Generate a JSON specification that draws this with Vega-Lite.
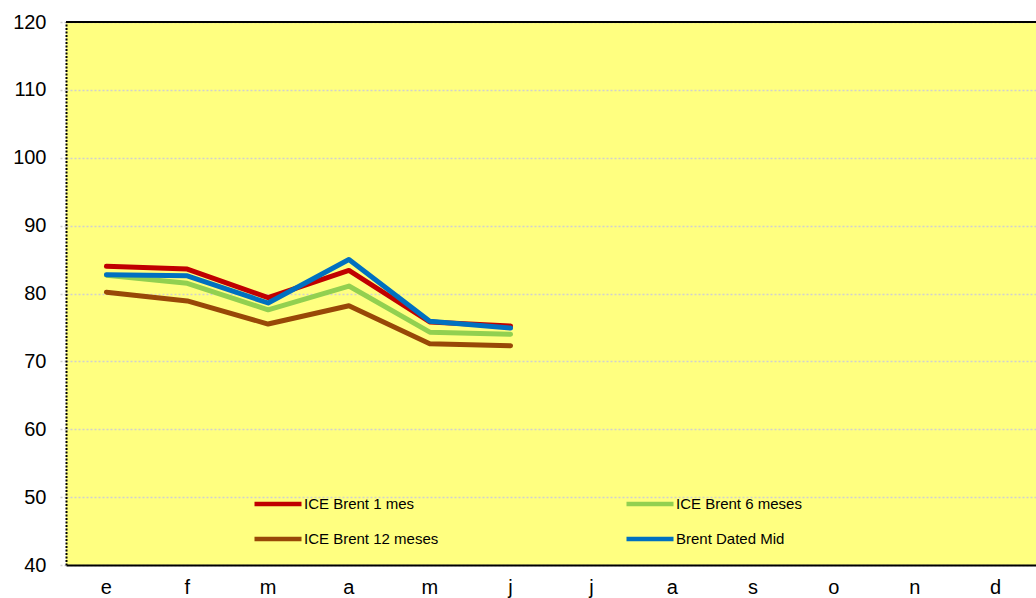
{
  "$schema": "https://vega.github.io/schema/vega-lite/v6.json",
  "width": 970,
  "height": 543,
  "autosize": {"type": "none"},
  "padding": {"left": 66, "top": 22, "right": 0, "bottom": 33},
  "background": "white",
  "config": {
    "view": {"fill": "#FFFF80", "stroke": null},
    "font": "Liberation Sans"
  },
  "data": {
    "values": [
      {"serie": "ICE Brent 12 meses", "mes": 1, "valor": 80.2},
      {"serie": "ICE Brent 12 meses", "mes": 2, "valor": 78.9},
      {"serie": "ICE Brent 12 meses", "mes": 3, "valor": 75.5},
      {"serie": "ICE Brent 12 meses", "mes": 4, "valor": 78.2},
      {"serie": "ICE Brent 12 meses", "mes": 5, "valor": 72.6},
      {"serie": "ICE Brent 12 meses", "mes": 6, "valor": 72.3},
      {"serie": "ICE Brent 6 meses", "mes": 1, "valor": 82.7},
      {"serie": "ICE Brent 6 meses", "mes": 2, "valor": 81.5},
      {"serie": "ICE Brent 6 meses", "mes": 3, "valor": 77.6},
      {"serie": "ICE Brent 6 meses", "mes": 4, "valor": 81.1},
      {"serie": "ICE Brent 6 meses", "mes": 5, "valor": 74.3},
      {"serie": "ICE Brent 6 meses", "mes": 6, "valor": 74.0},
      {"serie": "ICE Brent 1 mes", "mes": 1, "valor": 84.0},
      {"serie": "ICE Brent 1 mes", "mes": 2, "valor": 83.6},
      {"serie": "ICE Brent 1 mes", "mes": 3, "valor": 79.4},
      {"serie": "ICE Brent 1 mes", "mes": 4, "valor": 83.4},
      {"serie": "ICE Brent 1 mes", "mes": 5, "valor": 75.8},
      {"serie": "ICE Brent 1 mes", "mes": 6, "valor": 75.2},
      {"serie": "Brent Dated Mid", "mes": 1, "valor": 82.75},
      {"serie": "Brent Dated Mid", "mes": 2, "valor": 82.6},
      {"serie": "Brent Dated Mid", "mes": 3, "valor": 78.6},
      {"serie": "Brent Dated Mid", "mes": 4, "valor": 85.0},
      {"serie": "Brent Dated Mid", "mes": 5, "valor": 75.9},
      {"serie": "Brent Dated Mid", "mes": 6, "valor": 74.9}
    ]
  },
  "layer": [
    {
      "mark": {"type": "rule", "color": "black", "strokeWidth": 2},
      "encoding": {"y": {"datum": 120, "type": "quantitative", "scale": {"domain": [40, 120]}}}
    },
    {
      "mark": {"type": "line", "strokeWidth": 5, "strokeCap": "round", "strokeJoin": "round"},
      "encoding": {
        "x": {
          "field": "mes",
          "type": "ordinal",
          "scale": {"type": "band", "domain": [1,2,3,4,5,6,7,8,9,10,11,12], "paddingInner": 0, "paddingOuter": 0},
          "axis": {
            "title": null,
            "labelAngle": 0,
            "labelExpr": "['e','f','m','a','m','j','j','a','s','o','n','d'][datum.value-1]",
            "labelFontSize": 20,
            "labelColor": "black",
            "labelPadding": 12,
            "ticks": false,
            "domainColor": "black",
            "domainWidth": 2,
            "grid": false
          }
        },
        "y": {
          "field": "valor",
          "type": "quantitative",
          "scale": {"domain": [40, 120], "nice": false, "zero": false},
          "axis": {
            "title": null,
            "values": [40,50,60,70,80,90,100,110,120],
            "labelFontSize": 20,
            "labelColor": "black",
            "labelPadding": 14,
            "tickColor": "#D0D0D0",
            "tickDash": [2, 2],
            "tickWidth": 1.5,
            "tickSize": 6,
            "domainColor": "black",
            "domainDash": [2, 1.5],
            "domainWidth": 2,
            "grid": true,
            "gridColor": "#D0D0D0",
            "gridDash": [2, 2],
            "gridWidth": 1.5
          }
        },
        "color": {
          "field": "serie",
          "type": "nominal",
          "scale": {
            "domain": ["ICE Brent 1 mes", "ICE Brent 12 meses", "ICE Brent 6 meses", "Brent Dated Mid"],
            "range": ["#C00000", "#984807", "#92D050", "#0070C0"]
          },
          "legend": {
            "title": null,
            "orient": "none",
            "legendX": 186,
            "legendY": 456,
            "columns": 2,
            "columnPadding": 178,
            "rowPadding": -8,
            "symbolType": "stroke",
            "symbolSize": 2209,
            "symbolStrokeWidth": 4.5,
            "labelFontSize": 15,
            "labelColor": "black",
            "labelOffset": 0,
            "labelLimit": 300
          }
        }
      }
    }
  ]
}
